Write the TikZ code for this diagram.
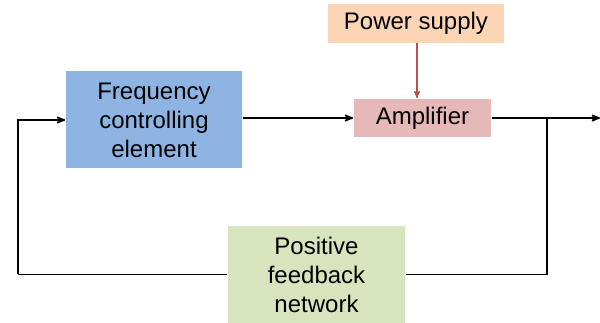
\documentclass[tikz,border=0pt]{standalone}
\usepackage{fontspec}
\setmainfont{Liberation Sans}
\usetikzlibrary{positioning, arrows}
\definecolor{psorange}{HTML}{FCD5B5}
\definecolor{amppink}{HTML}{E6B9B8}
\definecolor{fceblue}{HTML}{8DB4E2}
\definecolor{fbgreen}{HTML}{D7E4BD}
\definecolor{arrred}{HTML}{C0504D}

\begin{document}
\begin{tikzpicture}[x=1pt,y=1pt,->,>=stealth',line width=1.8pt,
    block/.style={inner sep=0pt,align=center,font=\fontsize{24}{29}\selectfont}]
  \useasboundingbox (0,0) rectangle (600,-323);
  \node[block, fill=psorange, minimum width=176, minimum height=39] (PS)  at (416,-23.5)   {Power supply};
  \node[block, fill=amppink,  minimum width=137, minimum height=38] (Amp) at (422.5,-118)  {Amplifier};
  \node[block, fill=fceblue,  minimum width=176, minimum height=97] (FCE) at (154,-120)    {Frequency\\controlling\\element};
  \node[block, fill=fbgreen,  minimum width=177, minimum height=97] (FB)  at (316.5,-274.5) {Positive\\feedback\\network};
  \coordinate (Out) at (600,-118);
  \coordinate (Br)  at (547,-118);
  \coordinate (Lt)  at (18,-274);
  \coordinate (PSd) at (417,-43);
  \draw[arrred, line width=1.4pt] (PSd) -- (PSd |- Amp.north);
  \draw (FCE.east |- Amp) -- (Amp);
  \draw (Amp) -- (Out);
  \draw[-] (Br) |- (FB);
  \draw[-] (FB) -- (FB.west -| Lt);
  \draw (FB.west -| Lt) |- (FCE);
\end{tikzpicture}
\end{document}
